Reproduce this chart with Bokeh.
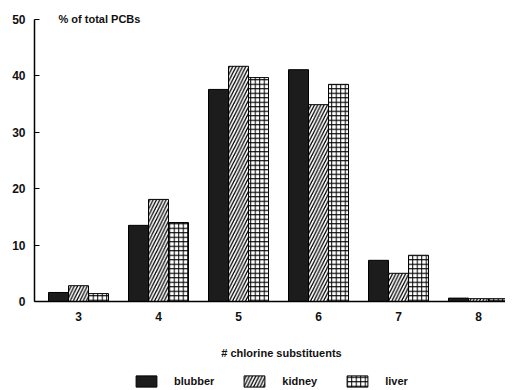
import numpy as np
from bokeh.plotting import figure
from bokeh.layouts import column
from bokeh.models import ColumnDataSource, FixedTicker, Legend, LegendItem, Label, Range1d
from bokeh.transform import dodge
from bokeh.embed import file_html
from bokeh.resources import INLINE

categories = [3, 4, 5, 6, 7, 8]
blubber = [1.6, 13.5, 37.6, 41.1, 7.3, 0.6]
kidney = [2.8, 18.1, 41.7, 34.9, 5.0, 0.5]
liver = [1.4, 14.0, 39.7, 38.5, 8.2, 0.5]
y_ticks = [0, 10, 20, 30, 40, 50]
series_names = ["blubber", "kidney", "liver"]
x_title = "# chlorine substituents"
y_title = "% of total PCBs"

src = ColumnDataSource(dict(cat=categories, blubber=blubber, kidney=kidney, liver=liver))

FONT = "Liberation Sans"
styles = [
    dict(fill_color="#1c1c1c", line_color="black", line_width=1),
    dict(fill_color="white", line_color="black", line_width=1,
         hatch_pattern="/", hatch_color="black", hatch_scale=6.5, hatch_weight=1.3),
    dict(fill_color="white", line_color="black", line_width=1,
         hatch_pattern="+", hatch_color="black", hatch_scale=4.5, hatch_weight=1),
]

p = figure(width=505, height=334, output_backend="svg", toolbar_location=None,
           x_range=Range1d(2.45, 8.3375), y_range=Range1d(0, 51.24),
           min_border_left=34, min_border_right=0, min_border_top=12, min_border_bottom=33)
p.outline_line_color = None
p.grid.visible = False

bw = 0.25
offsets = [-0.25, 0.0, 0.25]
for name, off, st in zip(series_names, offsets, styles):
    p.vbar(x=dodge("cat", off, range=p.x_range), top=name, width=bw, source=src, **st)

# axes
p.yaxis.ticker = FixedTicker(ticks=y_ticks)
p.yaxis.bounds = (0, 50)
p.yaxis.major_tick_in = 5
p.yaxis.major_tick_out = 0
p.yaxis.minor_tick_line_color = None
p.yaxis.axis_line_color = "black"
p.yaxis.axis_line_width = 1.5
p.yaxis.major_label_standoff = 9
p.yaxis.major_label_text_font = FONT
p.yaxis.major_label_text_font_style = "bold"
p.yaxis.major_label_text_font_size = "12px"
p.yaxis.major_label_text_color = "#111"

p.xaxis.ticker = FixedTicker(ticks=categories)
p.xaxis.major_tick_in = 0
p.xaxis.major_tick_out = 0
p.xaxis.minor_tick_line_color = None
p.xaxis.axis_line_width = 1.5
p.xaxis.major_label_standoff = 10
p.xaxis.major_label_text_font = FONT
p.xaxis.major_label_text_font_style = "bold"
p.xaxis.major_label_text_font_size = "12px"
p.xaxis.major_label_text_color = "#111"

p.add_layout(Label(x=2.75, y=50, text=y_title, text_baseline="middle",
                   text_font=FONT, text_font_style="bold", text_font_size="11px",
                   text_color="#111"))

# strip below the chart: x-axis title and legend (frame aligned with the chart's frame)
q = figure(width=505, height=54, output_backend="svg", toolbar_location=None,
           x_range=Range1d(0, 471), y_range=Range1d(0, 54),
           min_border=0, min_border_left=34, min_border_right=0,
           min_border_top=0, min_border_bottom=0)
q.axis.visible = False
q.grid.visible = False
q.outline_line_color = None

q.add_layout(Label(x=247, y=36, text=x_title, text_align="center", text_baseline="middle",
                   text_font=FONT, text_font_style="bold", text_font_size="11px",
                   text_color="#111"))

hidden = ColumnDataSource(dict(x=[-100], top=[-100]))
items = []
for name, st in zip(series_names, styles):
    r = q.vbar(x="x", top="top", width=1, source=hidden, **st)
    items.append(LegendItem(label=name, renderers=[r]))

legend = Legend(items=items, orientation="horizontal", location=(99, 0),
                glyph_width=26, glyph_height=14, label_standoff=15, spacing=27,
                padding=2, margin=0, border_line_color=None, background_fill_alpha=0,
                label_text_font=FONT, label_text_font_style="bold",
                label_text_font_size="11px", label_text_color="#111")
q.add_layout(legend, "center")

layout = column(p, q, spacing=0)
open("out.html", "w").write(file_html(layout, INLINE))
